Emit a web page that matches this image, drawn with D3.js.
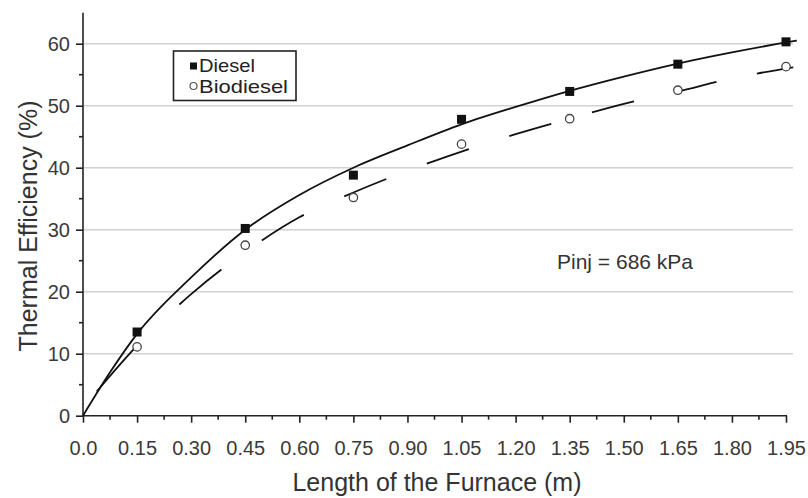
<!DOCTYPE html>
<html>
<head>
<meta charset="utf-8">
<script src="https://cdn.jsdelivr.net/npm/d3@7"></script>
<style>
  body { margin: 0; background: #fff; }
  svg { font-family: 'Liberation Sans', Arial, sans-serif; }
</style>
</head>
<body>
<svg id="chart" width="808" height="498"></svg>
<script>
// measured points
const lengths = [0.15, 0.45, 0.75, 1.05, 1.35, 1.65, 1.95]
const dieselEff = [13.5, 30.2, 38.8, 47.8, 52.3, 56.7, 60.3]
const biodieselEff = [11.1, 27.5, 35.2, 43.8, 47.9, 52.5, 56.3]

// fitted curves
const dieselFitX = [0, 0.075, 0.15, 0.3, 0.45, 0.6, 0.75, 0.9, 1.05, 1.2, 1.35, 1.5, 1.65, 1.8, 1.95, 1.98]
const dieselFitY = [0, 7.0, 13.2, 22.3, 30.0, 35.6, 40.0, 43.6, 47.0, 49.8, 52.4, 54.7, 56.8, 58.6, 60.2, 60.5]
const bioFitX = [0.038, 0.15, 0.3, 0.45, 0.6, 0.75, 0.9, 1.05, 1.2, 1.35, 1.5, 1.65, 1.8, 1.97]
const bioFitY = [3.9, 11.3, 19.6, 26.4, 32.0, 36.0, 39.5, 42.6, 45.4, 47.9, 50.3, 52.3, 54.4, 56.2]

const xTicks = d3.range(0, 14).map(i => +(i * 0.15).toFixed(2))
const xMinor = d3.range(0, 13).map(i => +(i * 0.15 + 0.075).toFixed(3))
const yTicks = [0, 10, 20, 30, 40, 50, 60]
const yMinor = [5, 15, 25, 35, 45, 55]

const svg = d3.select('#chart')
const x = d3.scaleLinear().domain([0, 1.95]).range([83, 786])
const y = d3.scaleLinear().domain([0, 60]).range([415.7, 43.7])

// grid
svg.append('g')
  .selectAll('line')
  .data(yTicks.slice(1))
  .enter()
  .append('line')
  .attr('x1', x(0) + 1)
  .attr('x2', 793)
  .attr('y1', d => y(d))
  .attr('y2', d => y(d))
  .attr('stroke', '#d2d2d2')
  .attr('stroke-width', 1.6)

// axes
const xAxis = svg.append('g')
  .attr('transform', `translate(0,${y(0)})`)
  .call(d3.axisBottom(x).tickValues(xTicks).tickSize(7).tickPadding(18)
    .tickFormat(d => d === 0 ? '0.0' : d3.format('.2f')(d)))
xAxis.select('.domain').attr('d', `M${x(0)},0H${x(1.95) + 1}`)
xAxis.append('g')
  .selectAll('line')
  .data(xMinor)
  .enter()
  .append('line')
  .attr('x1', d => x(d))
  .attr('x2', d => x(d))
  .attr('y1', 0)
  .attr('y2', 4)

const yAxis = svg.append('g')
  .attr('transform', `translate(${x(0)},0)`)
  .call(d3.axisLeft(y).tickValues(yTicks).tickSize(7).tickPadding(6))
yAxis.select('.domain').attr('d', `M0,${y(65)}V${y(0)}`)
yAxis.append('g')
  .selectAll('line')
  .data(yMinor)
  .enter()
  .append('line')
  .attr('x1', -4)
  .attr('x2', 0)
  .attr('y1', d => y(d))
  .attr('y2', d => y(d))

svg.selectAll('.domain').attr('stroke', '#222').attr('stroke-width', 1.6)
xAxis.selectAll('line').attr('stroke', '#222').attr('stroke-width', 1.6)
yAxis.selectAll('line').attr('stroke', '#222').attr('stroke-width', 1.6)
svg.selectAll('.tick text')
  .attr('fill', '#3a3a3a')
  .style('font-size', '20px')
  .style('font-family', "'Liberation Sans', Arial, sans-serif")

// axis titles
svg.append('text')
  .attr('x', 437)
  .attr('y', 491)
  .attr('text-anchor', 'middle')
  .attr('fill', '#333')
  .style('font-size', '25px')
  .text('Length of the Furnace (m)')

svg.append('text')
  .attr('transform', 'translate(37,226) rotate(-90)')
  .attr('text-anchor', 'middle')
  .attr('fill', '#333')
  .style('font-size', '25px')
  .text('Thermal Efficiency (%)')

// fit lines
const line = d3.line()
  .x(d => x(d[0]))
  .y(d => y(d[1]))
  .curve(d3.curveMonotoneX)

svg.append('path')
  .attr('d', line(d3.zip(dieselFitX, dieselFitY)))
  .attr('fill', 'none')
  .attr('stroke', '#111')
  .attr('stroke-width', 1.8)

const bioPath = svg.append('path')
  .attr('d', line(d3.zip(bioFitX, bioFitY)))
  .attr('fill', 'none')
  .attr('stroke', '#111')
  .attr('stroke-width', 1.8)

// dashes are evenly spaced along x: 42px on, 40.5px off
const node = bioPath.node()
const total = node.getTotalLength()
const x0 = x(bioFitX[0])
const bounds = []
let k = 1
let edge = x0 + 42
for (let s = 0; s <= total; s += 0.25) {
  const p = node.getPointAtLength(s)
  if (p.x >= edge) {
    bounds.push(s)
    edge += (k % 2 === 1) ? 40.5 : 42
    k++
  }
}
const dashes = bounds.map((b, i) => b - (i ? bounds[i - 1] : 0))
dashes.push(total)
bioPath.attr('stroke-dasharray', dashes.join(','))

// markers
svg.append('g')
  .selectAll('rect')
  .data(d3.zip(lengths, dieselEff))
  .enter()
  .append('rect')
  .attr('x', d => x(d[0]) - 4.5)
  .attr('y', d => y(d[1]) - 4.5)
  .attr('width', 9)
  .attr('height', 9)
  .attr('fill', '#111')

svg.append('g')
  .selectAll('circle')
  .data(d3.zip(lengths, biodieselEff))
  .enter()
  .append('circle')
  .attr('cx', d => x(d[0]))
  .attr('cy', d => y(d[1]))
  .attr('r', 4.2)
  .attr('fill', '#fff')
  .attr('stroke', '#444')
  .attr('stroke-width', 1.3)

// legend
const legend = svg.append('g')
legend.append('rect')
  .attr('x', 173.5)
  .attr('y', 51)
  .attr('width', 122.5)
  .attr('height', 49.5)
  .attr('fill', '#fff')
  .attr('stroke', '#222')
  .attr('stroke-width', 1.6)
legend.append('rect')
  .attr('x', 190)
  .attr('y', 62.5)
  .attr('width', 7)
  .attr('height', 7)
  .attr('fill', '#111')
legend.append('circle')
  .attr('cx', 193.5)
  .attr('cy', 86)
  .attr('r', 3.5)
  .attr('fill', '#fff')
  .attr('stroke', '#555')
  .attr('stroke-width', 1.2)
legend.append('text')
  .attr('x', 199)
  .attr('y', 72)
  .attr('fill', '#222')
  .style('font-size', '19px')
  .attr('textLength', 56)
  .attr('lengthAdjust', 'spacingAndGlyphs')
  .text('Diesel')
legend.append('text')
  .attr('x', 199)
  .attr('y', 92.5)
  .attr('fill', '#222')
  .style('font-size', '19px')
  .attr('textLength', 89)
  .attr('lengthAdjust', 'spacingAndGlyphs')
  .text('Biodiesel')

// annotation
svg.append('text')
  .attr('x', 557)
  .attr('y', 268.5)
  .attr('fill', '#333')
  .style('font-size', '21px')
  .text('Pinj = 686 kPa')
</script>
</body>
</html>
